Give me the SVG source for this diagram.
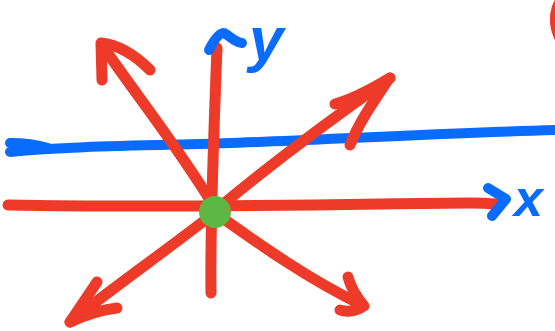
<svg xmlns="http://www.w3.org/2000/svg" width="555" height="331" viewBox="0 0 555 331">
<style>
.r{fill:none;stroke:#ee3a28;stroke-width:11;stroke-linecap:round;stroke-linejoin:round}
.b{fill:none;stroke:#0a6cff;stroke-width:10;stroke-linecap:round;stroke-linejoin:round}
.t{fill:#0a6cff;font-family:"Liberation Sans",sans-serif;font-weight:bold;font-style:italic}
</style>
<rect width="555" height="331" fill="#fff"/>
<g id="blue-line">
<path class="b" d="M10 152 C60 147 120 146 200 144 S420 134 555 130"/>
<path class="b" d="M10 143 C25 143 38 145 48 148" stroke-width="6"/>
</g>
<g id="connectors">
<path class="r" d="M8 205 C120 207 250 206 380 204 S470 203 496 204"/>
<path class="r" d="M211 293 C210 230 213 150 217 48"/>
<path class="r" d="M213 205 C180 150 140 100 102 45"/>
<path class="r" d="M101 43 L102 80 M101 43 C120 45 135 55 150 70" stroke-width="13"/>
<path class="r" d="M216 210 C270 165 330 120 390 78"/>
<path class="r" d="M390 78 C370 90 350 100 335 104 M388 80 C375 100 360 120 350 145" stroke-width="13"/>
<path class="r" d="M213 214 C160 255 110 290 70 322"/>
<path class="r" d="M70 322 L97 282 M70 322 C85 315 100 310 117 308" stroke-width="13"/>
<path class="r" d="M217 214 C260 245 310 280 362 305"/>
<path class="r" d="M364 306 C355 295 350 285 348 277 M364 306 C355 312 345 312 340 310" stroke-width="15"/>
<path class="r" d="M566 -5 C554 5 553 22 559 36" stroke-width="10"/>
</g>
<g id="y-axis-head">
<path class="b" d="M209 50 C214 40 219 33 224 33 C230 36 234 42 242 43" stroke-width="12"/>
<text class="t" x="249" y="60" font-size="62">y</text>
</g>
<g id="x-axis-head">
<path class="b" d="M488 188 L506 199 L492 216" stroke-width="11"/>
<text class="t" x="514" y="216" font-size="52">x</text>
</g>
<g id="origin">
<circle cx="215" cy="212" r="16" fill="#5db843"/>
</g>
</svg>
